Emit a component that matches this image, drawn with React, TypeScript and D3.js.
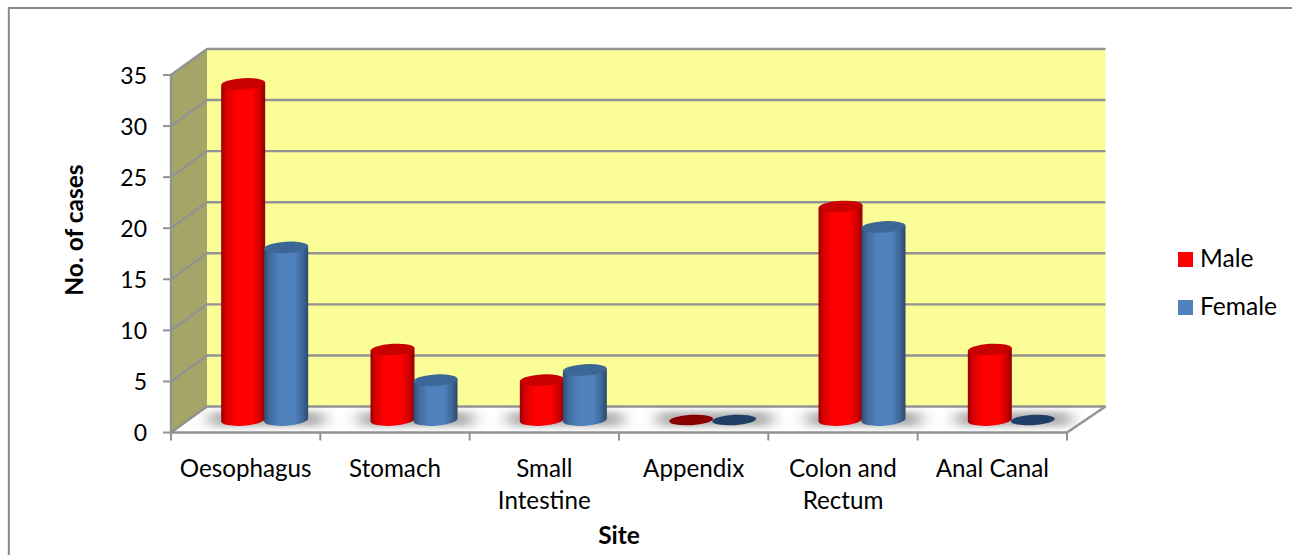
import React from "react";
import * as d3 from "d3";

const categories: string[][] = [["Oesophagus"], ["Stomach"], ["Small", "Intestine"], ["Appendix"], ["Colon and", "Rectum"], ["Anal Canal"]];
const seriesNames = ["Male", "Female"];
const maleValues = [33, 7, 4, 0, 21, 7];
const femaleValues = [17, 4, 5, 0, 19, 0];
const yTicks = [0, 5, 10, 15, 20, 25, 30, 35];

const FONT = "Lato, 'Open Sans', sans-serif";
const GRID = "#929292";
const depthX = 36;
const depthY = 26;
const backOver = 38.5;

const x = d3.scaleBand<number>().domain(d3.range(categories.length)).range([171, 1067]);
const y = d3.scaleLinear().domain([0, 35]).range([432.5, 75]);
const inner = d3.scaleBand<string>().domain(seriesNames).range([x.bandwidth() / 2 - 43, x.bandwidth() / 2 + 43]);

const line = d3.line<[number, number]>();
const close = (pts: [number, number][]) => (line(pts) as string) + "Z";

const styles = [
  { grad: "gMale", top: "#c80000", flat: "#8a0000", legend: "#ff0000" },
  { grad: "gFemale", top: "#3c6696", flat: "#1f3f66", legend: "#4f81bd" },
];

function Bar({ cx, v, s }: { cx: number; v: number; s: number }) {
  const rx = inner.bandwidth() / 2 + 0.5;
  const ry = 5.7;
  const dy = 1.5;
  const base = y(0) - 12.5;
  const top = base + 1 - (y(0) - y(v));
  if (v === 0) {
    return <ellipse cx={cx} cy={base} rx={rx} ry={ry - 0.5} fill={styles[s].flat} transform={`rotate(-3.5 ${cx} ${base})`} />;
  }
  const body = `M${cx - rx},${top + dy}L${cx - rx},${base + dy}A${rx},${ry} -4 0 0 ${cx + rx},${base - dy}L${cx + rx},${top - dy}Z`;
  return (
    <g>
      <path d={body} fill={`url(#${styles[s].grad})`} />
      <ellipse cx={cx} cy={top} rx={rx} ry={ry} fill={styles[s].top} transform={`rotate(-3.5 ${cx} ${top})`} />
    </g>
  );
}

export default function App() {
  const [x0r, x1r] = x.range();
  const floor = close([[x0r, y(0)], [x0r + depthX, y(0) - depthY], [x1r + backOver, y(0) - depthY], [x1r, y(0)]]);
  const wall = close([[x0r, y(35)], [x0r + depthX, y(35) - depthY], [x0r + depthX, y(0) - depthY], [x0r, y(0)]]);
  const back = { x: x0r + depthX, y: y(35) - depthY, w: x1r + backOver - x0r - depthX, h: y(0) - y(35) };
  const barOffset = depthX / 2 + 1;
  return (
    <svg width={1292} height={555} style={{ position: "absolute", left: 0, top: 0, background: "#fff" }} fontFamily={FONT}>
      <defs>
        <linearGradient id="gMale" x1="0" x2="1" y1="0" y2="0">
          <stop offset="0" stopColor="#9c0000" />
          <stop offset="0.12" stopColor="#d80000" />
          <stop offset="0.35" stopColor="#ff0000" />
          <stop offset="0.7" stopColor="#ff0000" />
          <stop offset="0.88" stopColor="#d00000" />
          <stop offset="1" stopColor="#900000" />
        </linearGradient>
        <linearGradient id="gFemale" x1="0" x2="1" y1="0" y2="0">
          <stop offset="0" stopColor="#2f4d71" />
          <stop offset="0.12" stopColor="#3f6a9c" />
          <stop offset="0.35" stopColor="#4f81bd" />
          <stop offset="0.7" stopColor="#4f81bd" />
          <stop offset="0.88" stopColor="#3d6694" />
          <stop offset="1" stopColor="#2c486a" />
        </linearGradient>
        <filter id="blur" x="-40%" y="-80%" width="180%" height="260%">
          <feGaussianBlur stdDeviation="8 3" />
        </filter>
        <clipPath id="floorClip"><path d={floor} /></clipPath>
      </defs>

      {/* frame */}
      <path d="M8.8,555V8H1292" fill="none" stroke="#8a8a8a" strokeWidth={2} />

      {/* walls */}
      <rect x={back.x} y={back.y} width={back.w} height={back.h} fill="#fbfd96" />
      <path d={wall} fill="#a4a566" />
      <path d={floor} fill="#ffffff" />

      {/* shadows */}
      <g clipPath="url(#floorClip)">
        {categories.map((_, i) => {
          const x0 = (x(i) as number) + barOffset;
          const left = x0 + (inner("Male") as number) - 12;
          const w = inner.bandwidth() * 2 + 28;
          return (
            <rect key={i} x={left} y={y(0) - 21} width={w} height={15} fill="#808080" opacity={0.6} filter="url(#blur)" />
          );
        })}
      </g>

      {/* gridlines */}
      {yTicks.map((t) => (
        <path key={t} d={line([[x0r, y(t)], [x0r + depthX, y(t) - depthY], [x1r + backOver, y(t) - depthY]]) as string} fill="none" stroke={GRID} strokeWidth={2.4} />
      ))}
      <path d={line([[x1r + backOver, y(0) - depthY], [x1r, y(0)]]) as string} fill="none" stroke={GRID} strokeWidth={2.4} />

      {/* axes */}
      <path d={`M${x0r},${y(35)}V${y(0) + 1}`} stroke={GRID} strokeWidth={2.4} />
      <path d={`M${x0r},${y(0)}H${x1r}`} stroke={GRID} strokeWidth={2.4} />
      {yTicks.map((t) => (
        <g key={t}>
          <path d={`M${x0r - 8},${y(t)}H${x0r}`} stroke={GRID} strokeWidth={2} />
          <text x={147} y={y(t) + 8.5} textAnchor="end" fontSize={23} fill="#000">{t}</text>
        </g>
      ))}
      {d3.range(categories.length + 1).map((i) => {
        const px = x0r + i * x.step();
        return <path key={i} d={`M${px},${y(0)}V${y(0) + 8}`} stroke={GRID} strokeWidth={2} />;
      })}

      {/* bars */}
      {categories.map((_, i) => {
        const x0 = (x(i) as number) + barOffset;
        const mx = x0 + (inner("Male") as number) + inner.bandwidth() / 2;
        const fx = x0 + (inner("Female") as number) + inner.bandwidth() / 2;
        return (
          <g key={i}>
            <Bar cx={mx} v={maleValues[i]} s={0} />
            <Bar cx={fx} v={femaleValues[i]} s={1} />
          </g>
        );
      })}

      {/* category labels */}
      {categories.map((lines, i) => (
        <text key={i} textAnchor="middle" fontSize={24.2} fill="#000">
          {lines.map((l, j) => <tspan key={j} x={(x(i) as number) + x.bandwidth() / 2} y={477 + j * 32}>{l}</tspan>)}
        </text>
      ))}

      {/* axis titles */}
      <text x={619} y={544} textAnchor="middle" fontSize={24.5} fontWeight={700}>Site</text>
      <text transform="translate(83,230) rotate(-90)" textAnchor="middle" fontSize={24.5} fontWeight={700}>No. of cases</text>

      {/* legend */}
      {seriesNames.map((n, i) => (
        <g key={n}>
          <rect x={1178} y={252 + i * 48} width={15} height={15} fill={styles[i].legend} />
          <text x={1200} y={267 + i * 48} fontSize={24.6} fill="#000">{n}</text>
        </g>
      ))}
    </svg>
  );
}
